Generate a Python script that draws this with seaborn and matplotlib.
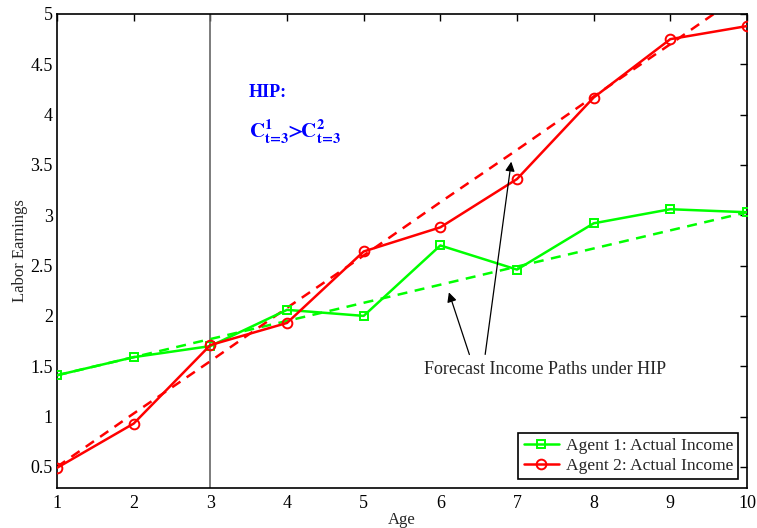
import numpy as np
import pandas as pd
import seaborn as sns
import matplotlib
matplotlib.use('Agg')
import matplotlib.pyplot as plt

# values
age = [1, 2, 3, 4, 5, 6, 7, 8, 9, 10]
agent1_actual = [1.41, 1.59, 1.70, 2.06, 2.00, 2.70, 2.46, 2.92, 3.06, 3.03]
agent2_actual = [0.49, 0.93, 1.71, 1.93, 2.64, 2.88, 3.36, 4.17, 4.75, 4.88]
agent1_forecast = [1.41, 1.59, 1.77, 1.95, 2.13, 2.31, 2.49, 2.67, 2.85, 3.03]
agent2_forecast = [0.50, 1.03, 1.55, 2.08, 2.60, 3.13, 3.65, 4.18, 4.70, 5.23]

y_ticks = [0.5, 1, 1.5, 2, 2.5, 3, 3.5, 4, 4.5, 5]
y_tick_labels = ['0.5', '1', '1.5', '2', '2.5', '3', '3.5', '4', '4.5', '5']

sns.set_style('white')
plt.rcParams['font.family'] = ['Liberation Serif', 'DejaVu Serif']
plt.rcParams['mathtext.fontset'] = 'stix'

fig = plt.figure(figsize=(7.57, 5.28), dpi=100)
ax = fig.add_axes([0.0753, 0.0758, 0.9115, 0.8977])

green = (0, 1, 0)
red = (1, 0, 0)

# vertical line at age 3
ax.axvline(3, color='#666666', lw=1.2, zorder=1)

# forecast paths (dashed)
sns.lineplot(x=age, y=agent1_forecast, color=green, lw=1.8,
             linestyle=(0, (4, 3)), ax=ax, zorder=2)
sns.lineplot(x=age, y=agent2_forecast, color=red, lw=1.8,
             linestyle=(0, (4, 3)), ax=ax, zorder=2)

# actual income
sns.lineplot(x=age, y=agent1_actual, color=green, lw=1.8, marker='s',
             ms=6, mfc='none', mec=green, mew=1.4, ax=ax, zorder=3,
             label='Agent 1: Actual Income')
sns.lineplot(x=age, y=agent2_actual, color=red, lw=1.8, marker='o',
             ms=7, mfc='none', mec=red, mew=1.4, ax=ax, zorder=3,
             label='Agent 2: Actual Income')

ax.set_xlim(1, 10)
ax.set_ylim(0.29, 5)
ax.set_xticks(age)
ax.set_yticks(y_ticks)
ax.set_yticklabels(y_tick_labels)
ax.tick_params(direction='in', length=5, width=1, labelsize=13,
               top=True, right=True, colors='black')
ax.tick_params(axis='x', pad=5)
ax.tick_params(axis='y', pad=3)
for sp in ax.spines.values():
    sp.set_color('black')
    sp.set_linewidth(1.2)

ax.set_xlabel('Age', fontsize=12, labelpad=0)
ax.set_ylabel('Labor Earnings', fontsize=12, labelpad=2)

ax.text(3.50, 4.22, 'HIP:', color='blue', fontsize=13, fontweight='bold',
        va='center', ha='left')
ax.text(3.50, 3.83, r'$\mathbf{C^{1}_{t\!=\!3}\!\!>\!\!C^{2}_{t\!=\!3}}$',
        color='blue', fontsize=15, va='center', ha='left')

ax.text(7.37, 1.47, 'Forecast Income Paths under HIP', fontsize=13,
        ha='center', va='center')
ax.annotate('', xy=(6.10, 2.26), xytext=(6.39, 1.59),
            arrowprops=dict(arrowstyle='-|>', color='black', lw=0.9,
                            mutation_scale=14))
ax.annotate('', xy=(6.93, 3.56), xytext=(6.58, 1.59),
            arrowprops=dict(arrowstyle='-|>', color='black', lw=0.9,
                            mutation_scale=14))

leg = ax.legend(loc='lower right', fontsize=12.6, frameon=True, fancybox=False,
                edgecolor='black', framealpha=1, borderaxespad=0.5,
                handlelength=2.0, borderpad=0.3, labelspacing=0.2,
                handletextpad=0.4)
leg.get_frame().set_linewidth(1.2)

fig.savefig('out.png', dpi=100)
